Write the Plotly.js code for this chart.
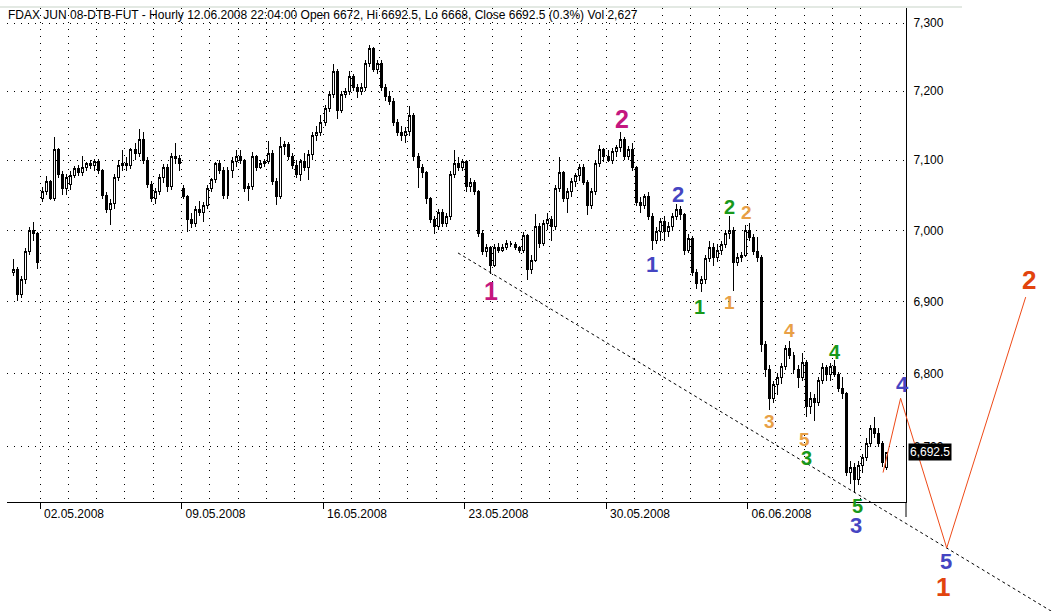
<!DOCTYPE html>
<html><head><meta charset="utf-8">
<script src="https://cdn.plot.ly/plotly-3.0.1.min.js"></script>
<style>html,body{margin:0;padding:0;background:#fff}#chart{width:1052px;height:611px}
#chart .boxlayer path{shape-rendering:crispEdges}</style>
</head><body><div id="chart"></div>
<script>
// ---- data: 2-hour OHLC bars, 7 per trading day, 31 days (30.04.2008 - 12.06.2008)
const barsPerDay = 7;
const opens = [
6940,6945,6910,6930,6970,7000,6995,
7045,7055,7070,7045,7115,7080,7060,
7065,7078,7088,7082,7090,7095,7092,
7098,7085,7050,7030,7038,7075,7092,
7095,7092,7115,7110,7130,7100,7065,
7045,7055,7075,7090,7062,7105,7102,
7060,7048,7015,7010,7030,7025,7035,
7060,7072,7095,7085,7050,7085,7098,
7105,7100,7060,7062,7105,7090,7095,
7098,7110,7070,7048,7120,7122,7105,
7092,7080,7098,7090,7108,7135,7140,
7155,7175,7195,7228,7172,7195,7200,
7222,7205,7200,7205,7240,7262,7232,
7240,7205,7192,7185,7155,7140,7135,
7142,7165,7105,7090,7082,7045,7015,
7005,7025,7010,7020,7080,7095,7090,
7098,7062,7068,7055,6995,6970,6975,
6950,6975,6972,6976,6982,6980,6975,
6972,6992,6945,6958,7005,6982,7010,
7015,7005,7060,7082,7045,7055,7070,
7078,7090,7068,7035,7055,7095,7115,
7105,7100,7112,7118,7130,7105,7115,
7090,7040,7035,7048,7020,6985,6998,
7012,6998,7005,7020,7030,7022,6972,
6988,6940,6925,6930,6960,6975,6962,
6972,6980,6995,7000,6955,6962,6965,
7000,6990,6970,6962,6840,6805,6765,
6785,6795,6810,6835,6825,6805,6795,
6815,6755,6765,6760,6790,6808,6798,
6810,6798,6780,6772,6665,6672,6655,
6675,6685,6705,6725,6718,6705,6672];
const highs = [
6960,6948,6935,6975,7005,7012,6998,
7062,7078,7072,7133,7118,7085,7080,
7085,7092,7093,7106,7098,7100,7102,
7102,7088,7055,7045,7080,7100,7115,
7105,7118,7125,7145,7140,7105,7070,
7060,7080,7095,7095,7110,7125,7108,
7065,7050,7025,7035,7042,7040,7065,
7075,7098,7100,7090,7090,7105,7115,
7115,7102,7068,7112,7108,7100,7102,
7128,7115,7075,7133,7128,7126,7110,
7100,7102,7110,7115,7140,7150,7165,
7180,7200,7240,7232,7200,7205,7230,
7225,7210,7212,7245,7268,7265,7245,
7245,7210,7200,7190,7160,7150,7148,
7178,7168,7110,7095,7085,7048,7020,
7030,7030,7025,7085,7115,7105,7102,
7100,7075,7072,7058,7000,6980,6978,
6980,6982,6980,6986,6985,6983,6978,
6998,6995,6965,7023,7010,7015,7025,
7020,7065,7105,7085,7060,7075,7082,
7095,7095,7072,7060,7100,7122,7118,
7115,7118,7122,7140,7133,7120,7125,
7092,7048,7052,7055,7025,7005,7018,
7020,7012,7025,7038,7035,7025,6995,
6992,6945,6935,6965,6985,6982,6980,
6985,7000,7020,7005,6968,6970,7008,
7010,6995,6990,6965,6845,6812,6790,
6800,6815,6840,6845,6830,6812,6828,
6818,6775,6772,6795,6815,6812,6815,
6818,6802,6795,6775,6680,6678,6680,
6690,6712,6730,6740,6725,6708,6692.5];
const lows = [
6935,6900,6905,6925,6965,6985,6945,
7040,7050,7043,7042,7075,7050,7050,
7058,7075,7078,7078,7085,7088,7085,
7080,7045,7025,7008,7030,7070,7085,
7085,7088,7100,7105,7095,7060,7040,
7038,7050,7068,7055,7058,7095,7085,
7045,6998,7003,7005,7020,7012,7030,
7055,7068,7080,7045,7045,7075,7090,
7095,7055,7042,7058,7085,7088,7090,
7095,7065,7036,7045,7108,7100,7088,
7075,7070,7085,7072,7100,7128,7135,
7150,7170,7190,7160,7168,7190,7195,
7200,7190,7195,7200,7235,7228,7225,
7200,7185,7180,7150,7135,7128,7125,
7135,7100,7060,7075,7038,7010,6995,
7000,7005,7005,7015,7075,7085,7085,
7055,7055,7050,6990,6965,6962,6938,
6948,6968,6970,6972,6976,6972,6968,
6968,6930,6938,6955,6975,6978,7000,
6985,7000,7055,7040,7025,7048,7062,
7070,7065,7022,7030,7050,7090,7098,
7098,7095,7105,7112,7100,7100,7085,
7035,7025,7030,7015,6972,6980,6985,
6985,6990,7000,7015,7015,6965,6968,
6935,6918,6913,6925,6955,6950,6955,
6965,6975,6988,6915,6950,6955,6962,
6985,6965,6955,6830,6795,6750,6760,
6770,6785,6805,6820,6800,6780,6790,
6740,6745,6735,6755,6785,6790,6790,
6795,6775,6765,6660,6650,6638,6648,
6665,6680,6700,6712,6700,6672,6668];
const closes = [
6945,6910,6930,6970,7000,6995,6955,
7055,7070,7045,7115,7080,7060,7075,
7078,7088,7082,7090,7095,7092,7098,
7085,7050,7030,7038,7075,7092,7095,
7092,7115,7110,7130,7100,7065,7045,
7055,7075,7090,7062,7105,7102,7095,
7048,7015,7010,7030,7025,7035,7060,
7072,7095,7085,7050,7085,7098,7105,
7100,7060,7062,7105,7090,7095,7098,
7110,7070,7048,7120,7122,7105,7092,
7080,7098,7090,7108,7135,7140,7155,
7175,7195,7228,7172,7195,7200,7222,
7205,7200,7205,7240,7262,7232,7240,
7205,7192,7185,7155,7140,7135,7142,
7165,7105,7090,7082,7045,7015,7005,
7025,7010,7020,7080,7095,7090,7098,
7062,7068,7055,6995,6970,6975,6950,
6975,6972,6976,6982,6980,6975,6972,
6992,6945,6958,7005,6982,7010,7015,
7005,7060,7082,7045,7055,7070,7078,
7090,7068,7035,7055,7095,7115,7105,
7100,7112,7118,7130,7105,7115,7090,
7040,7035,7048,7020,6985,6998,7012,
6998,7005,7020,7030,7022,6972,6988,
6940,6925,6930,6960,6975,6962,6972,
6980,6995,7000,6955,6962,6965,7000,
6990,6970,6962,6840,6805,6765,6785,
6795,6810,6835,6825,6805,6795,6815,
6755,6765,6760,6790,6808,6798,6810,
6798,6780,6772,6665,6672,6655,6675,
6685,6705,6725,6718,6705,6678,6692.5];

// x tick labels (day index of each Friday label) and price ticks
const weekTickDays = [1,6,11,16,21,26];
const weekTickText = ['02.05.2008','09.05.2008','16.05.2008','23.05.2008','30.05.2008','06.06.2008'];
const dayGridDays = [1,2,3,4,5,6,7,8,9,10,11,12,13,14,15,16,17,18,19,20,21,22,23,24,25,26,27,28,29,30];
const priceTicks = [6700,6800,6900,7000,7100,7200,7300];
const priceTickText = ['6,700','6,800','6,900','7,000','7,100','7,200','7,300'];
const lastClose = 6692.5;
const lastCloseText = '6,692.5';

// trend line and projected wave path (x in days, y in price)
const trendX = [15.77, 36.76];
const trendY = [6968, 6480];
const projX = [30.79, 31.41, 33.04, 35.83];
const projY = [6665, 6766, 6564, 6906];

// wave labels
const magentaText = ['1','2'];
const magentaX = [16.95, 21.57];
const magentaY = [6915, 7159.5];
const blueText = ['1','2','3','4','5'];
const blueX = [22.63, 23.53, 29.82, 31.49, 33.00];
const blueY = [6951.7, 7051.6, 6593.3, 6784.9, 6546.7];
const greenText = ['1','2','3','4','5'];
const greenX = [24.29, 25.35, 28.09, 29.09, 29.87];
const greenY = [6892.6, 7033.5, 6685.3, 6829.7, 6619.4];
const orangeText = ['1','2','3','4','5'];
const orangeX = [25.38, 25.97, 26.76, 27.50, 28.03];
const orangeY = [6899.1, 7024.6, 6733.6, 6858.8, 6710.4];
const redText = ['1','2'];
const redX = [32.91, 35.95];
const redY = [6512.4, 6929.9];

// ---- geometry
const W = 1052, H = 611;
const L = 7, R = 906, T = 8, B = 502;
const DAY0 = 11.7, DAYPX = 28.3;         // pixel of day 0 start, pixels per day
const PREF = 7300, PREFY = 23, K = 4940;  // log price scale
const pxToX = px => (px - DAY0) / DAYPX;
const pyToLogP = py => Math.log10(PREF * Math.exp(-(py - PREFY) / K));

const xs = closes.map((c, k) => Math.floor(k / barsPerDay) + ((k % barsPerDay) + 0.5) / barsPerDay);

const FONT = 'Liberation Sans, Arial, sans-serif';

const traces = [
  {type:'candlestick', x: xs, open: opens, high: highs, low: lows, close: closes,
   xaxis:'x', yaxis:'y', whiskerwidth:0, showlegend:false, hoverinfo:'skip',
   increasing:{line:{color:'#000', width:1}, fillcolor:'#fff'},
   decreasing:{line:{color:'#000', width:1}, fillcolor:'#000'}},
  {type:'scatter', mode:'lines', x: trendX, y: trendY, xaxis:'x2', yaxis:'y2',
   line:{color:'#000', width:1, dash:'3px,3px'}, showlegend:false, hoverinfo:'skip'},
  {type:'scatter', mode:'lines', x: projX, y: projY, xaxis:'x2', yaxis:'y2',
   line:{color:'#ee4a18', width:1}, showlegend:false, hoverinfo:'skip'}
];

const annotations = [];
function addLabels(texts, xv, yv, color, size) {
  texts.forEach((t, i) => annotations.push({
    xref:'x2', yref:'y2', x: xv[i], y: Math.log10(yv[i]), text:'<b>' + t + '</b>',
    showarrow:false, font:{family:FONT, size:size, color:color}
  }));
}
addLabels(magentaText, magentaX, magentaY, '#c4177f', 25);
addLabels(blueText, blueX, blueY, '#4545c2', 22);
addLabels(greenText, greenX, greenY, '#18981a', 20);
addLabels(orangeText, orangeX, orangeY, '#e8a046', 19);
addLabels(redText, redX, redY, '#e2440e', 26);
annotations.push({xref:'paper', yref:'y', x: 908 / W, xanchor:'left', y: Math.log10(lastClose),
  yanchor:'middle', text: lastCloseText, showarrow:false, bgcolor:'#000', borderpad:1,
  font:{family:FONT, size:12, color:'#fff'}});

const layout = {
  width: W, height: H, margin:{l:0, r:0, t:0, b:0},
  paper_bgcolor:'#fff', plot_bgcolor:'rgba(0,0,0,0)',
  showlegend:false, dragmode:false,
  font:{family:FONT, size:12, color:'#000'},
  title:{text:'FDAX JUN 08-DTB-FUT - Hourly 12.06.2008 22:04:00 Open 6672, Hi 6692.5, Lo 6668, Close 6692.5 (0.3%) Vol 2,627',
         x: 8 / W, xanchor:'left', y: 1 - 15 / H, yanchor:'middle',
         font:{family:FONT, size:12, color:'#000'}},
  xaxis:{domain:[L / W, R / W], range:[pxToX(L), pxToX(R)], anchor:'y',
         rangeslider:{visible:false}, fixedrange:true,
         tickmode:'array', tickvals: weekTickDays, ticktext: weekTickText,
         ticks:'outside', ticklen:6, tickcolor:'#000', tickwidth:1,
         ticklabelshift: 34, ticklabelstandoff: -5,
         showline:true, linecolor:'#000', linewidth:1, zeroline:false,
         showgrid:true, gridcolor:'#000', gridwidth:1, griddash:'1px,6px',
         minor:{tickmode:'array', tickvals: dayGridDays, showgrid:true, gridcolor:'#000', gridwidth:1, griddash:'1px,6px', ticks:''},
         tickfont:{family:FONT, size:12, color:'#000'}},
  yaxis:{domain:[1 - B / H, 1 - T / H], type:'log', range:[pyToLogP(B), pyToLogP(T)], anchor:'x',
         side:'right', fixedrange:true,
         tickmode:'array', tickvals: priceTicks, ticktext: priceTickText, ticks:'',
         ticklabelstandoff: 4,
         showline:true, linecolor:'#000', linewidth:1, zeroline:false,
         showgrid:true, gridcolor:'#000', gridwidth:1, griddash:'1px,6px',
         tickfont:{family:FONT, size:12, color:'#000'}},
  xaxis2:{domain:[0, 1], range:[pxToX(0), pxToX(W)], anchor:'y2', visible:false, fixedrange:true},
  yaxis2:{domain:[0, 1], type:'log', range:[pyToLogP(H), pyToLogP(0)], anchor:'x2', visible:false, fixedrange:true},
  shapes:[
    {type:'line', xref:'paper', yref:'paper', x0:0, x1:962 / W, y0:1 - 7 / H, y1:1 - 7 / H, line:{color:'#c7d3c7', width:1}},
    {type:'line', xref:'paper', yref:'paper', x0:R / W, x1:R / W, y0:1 - B / H, y1:1 - 517 / H, line:{color:'#000', width:1}}
  ],
  annotations: annotations
};

Plotly.newPlot('chart', traces, layout, {staticPlot:true, displayModeBar:false});
</script>
</body></html>
